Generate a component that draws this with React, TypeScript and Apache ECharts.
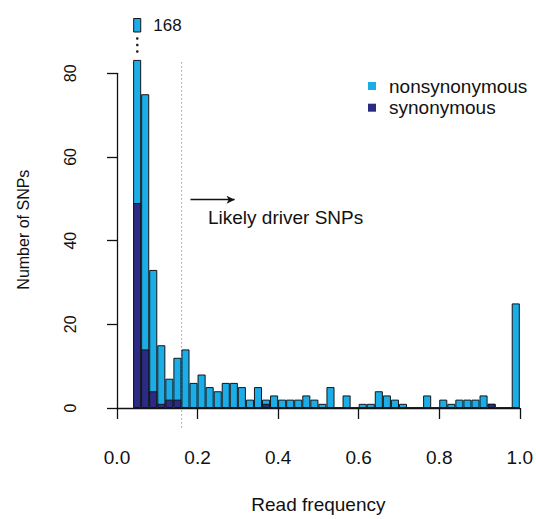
import React, { useEffect, useRef } from 'react';
import * as echarts from 'echarts';

// Histogram bins (left edges, width 0.02)
const binStarts = [
  0.04, 0.06, 0.08, 0.10, 0.12, 0.14, 0.16, 0.18, 0.20, 0.22, 0.24, 0.26,
  0.28, 0.30, 0.32, 0.34, 0.36, 0.38, 0.40, 0.42, 0.44, 0.46, 0.48, 0.50,
  0.52, 0.54, 0.56, 0.58, 0.60, 0.62, 0.64, 0.66, 0.68, 0.70, 0.72, 0.74,
  0.76, 0.78, 0.80, 0.82, 0.84, 0.86, 0.88, 0.90, 0.92, 0.94, 0.96, 0.98,
];
// All SNPs (drawn light: nonsynonymous) per bin
const totalCounts = [
  168, 75, 33, 15, 7, 12, 14, 6, 8, 5, 4, 6,
  6, 5, 2, 5, 2, 3, 2, 2, 2, 3, 2, 1,
  5, 0, 3, 0, 1, 1, 4, 3, 2, 1, 0, 0,
  3, 0, 2, 1, 2, 2, 2, 3, 1, 0, 0, 25,
];
// Synonymous SNPs per bin (drawn dark on top)
const synCounts = [
  49, 14, 4, 1, 2, 2, 0, 0, 0, 0, 0, 0,
  0, 0, 0, 0, 1, 0, 0, 0, 0, 0, 0, 0,
  0, 0, 0, 0, 0, 0, 0, 0, 0, 0, 0, 0,
  0, 0, 0, 0, 0, 0, 0, 0, 1, 0, 0, 0,
];
const seriesNames = ['nonsynonymous', 'synonymous'];
const thresholdLine = 0.16;
const annotationText = 'Likely driver SNPs';

const BIN_W = 0.02;
const Y_BOTTOM = -3.2; // plot region bottom
const Y_TOP = 83.2; // plot region top (broken axis)
const LIGHT = '#1BADE8';
const DARK = '#2B2A85';
const EDGE = '#151515';
const FONT = 'Liberation Sans, Arial, Helvetica, sans-serif';

export default function App() {
  const ref = useRef<HTMLDivElement>(null);
  useEffect(() => {
    if (!ref.current) return;
    const chart = echarts.init(ref.current, null, { renderer: 'svg' });
    const barW = 404 * BIN_W;
    const mainLight = binStarts.map((b, i) => [b + BIN_W / 2, Math.min(totalCounts[i], Y_TOP)]);
    const mainDark = binStarts.map((b, i) => [b + BIN_W / 2, synCounts[i]]);
    const topLight = binStarts
      .map((b, i) => [b + BIN_W / 2, totalCounts[i]])
      .filter((d) => d[1] > 80);
    const barStyle = (c: string) => ({ color: c, borderColor: EDGE, borderWidth: 1 });

    chart.setOption({
      animation: false,
      textStyle: { fontFamily: FONT },
      grid: [
        { left: 117, right: 15, top: 73.3, bottom: 105 },
        { left: 117, right: 15, top: 18, height: 14 },
        { left: 117, right: 15, top: 59.7, bottom: 91.4 },
      ],
      legend: {
        data: seriesNames,
        orient: 'vertical',
        left: 368,
        top: 76.5,
        padding: 0,
        itemWidth: 8,
        itemHeight: 8,
        itemGap: 2.7,
        icon: 'rect',
        itemStyle: { borderWidth: 0 },
        textStyle: { fontSize: 19, color: '#111', fontFamily: FONT, padding: [0, 0, 0, 8], lineHeight: 19 },
        selectedMode: false,
      },
      xAxis: [
        {
          type: 'value', gridIndex: 0, min: 0, max: 1, interval: 0.2, offset: 14,
          name: 'Read frequency', nameLocation: 'middle', nameGap: 73,
          nameTextStyle: { fontSize: 19, color: '#111', fontFamily: FONT },
          axisLine: { show: true, lineStyle: { color: '#111', width: 1.3 } },
          axisTick: { show: true, length: 11, lineStyle: { color: '#111', width: 1.3 } },
          axisLabel: { fontSize: 19, color: '#111', margin: 26, fontFamily: FONT, formatter: (v: number) => v.toFixed(1) },
          splitLine: { show: false },
        },
        { type: 'value', gridIndex: 1, min: 0, max: 1, show: false },
        { type: 'value', gridIndex: 2, min: 0, max: 1, show: false },
      ],
      yAxis: [
        {
          type: 'value', gridIndex: 0, min: 0, max: 80, interval: 20, offset: 17,
          name: 'Number of SNPs', nameLocation: 'middle', nameGap: 69, nameRotate: 90,
          nameTextStyle: { fontSize: 16, color: '#111', fontFamily: FONT, padding: [0, 0, 0, 22] },
          axisLine: { show: true, lineStyle: { color: '#111', width: 1.3 } },
          axisTick: { show: true, length: 10, lineStyle: { color: '#111', width: 1.3 } },
          axisLabel: { fontSize: 16, color: '#111', rotate: 90, margin: 22, fontFamily: FONT },
          splitLine: { show: false },
        },
        { type: 'value', gridIndex: 1, min: 164.7, max: 168, show: false },
        { type: 'value', gridIndex: 2, min: Y_BOTTOM, max: Y_TOP, show: false },
      ],
      series: [
        {
          name: 'threshold', type: 'line', xAxisIndex: 2, yAxisIndex: 2,
          data: [[thresholdLine, Y_BOTTOM], [thresholdLine, Y_TOP]],
          symbol: 'none', silent: true, z: 1,
          lineStyle: { type: [1.5, 2.5], color: '#999', width: 1 },
        },
        {
          name: seriesNames[0], type: 'bar', xAxisIndex: 0, yAxisIndex: 0,
          data: mainLight, barWidth: barW, barGap: '-100%', clip: false,
          itemStyle: barStyle(LIGHT), silent: true,
          markLine: {
            silent: true, animation: false, label: { show: false },
            data: [
              [
                { coord: [0.1824, 49.8], symbol: 'none', lineStyle: { type: 'solid', color: '#111', width: 1.3 } },
                { coord: [0.292, 49.8], symbol: 'arrow', symbolSize: [6, 8] },
              ],
            ],
          },
        },
        {
          name: seriesNames[1], type: 'bar', xAxisIndex: 0, yAxisIndex: 0,
          data: mainDark, barWidth: barW, barGap: '-100%', clip: false,
          itemStyle: barStyle(DARK), silent: true,
        },
        {
          name: seriesNames[0], type: 'bar', xAxisIndex: 1, yAxisIndex: 1,
          data: topLight, barWidth: barW, clip: true,
          itemStyle: barStyle(LIGHT), silent: true,
          label: {
            show: true, position: 'right', distance: 12, fontSize: 17, color: '#111', fontFamily: FONT,
            formatter: (p: any) => String(p.value[1]),
          },
        },
      ],
      graphic: [
        { type: 'circle', shape: { cx: 137.3, cy: 38.5, r: 1.3 }, style: { fill: '#222' }, silent: true },
        { type: 'circle', shape: { cx: 137.3, cy: 45, r: 1.3 }, style: { fill: '#222' }, silent: true },
        { type: 'circle', shape: { cx: 137.3, cy: 51.5, r: 1.3 }, style: { fill: '#222' }, silent: true },
        {
          type: 'text', left: 208, top: 208, silent: true,
          style: { text: annotationText, fontSize: 19, fontFamily: FONT, fill: '#111' },
        },
      ],
    });
    return () => chart.dispose();
  }, []);
  return <div ref={ref} style={{ position: 'absolute', left: 0, top: 0, width: 536, height: 519 }} />;
}
